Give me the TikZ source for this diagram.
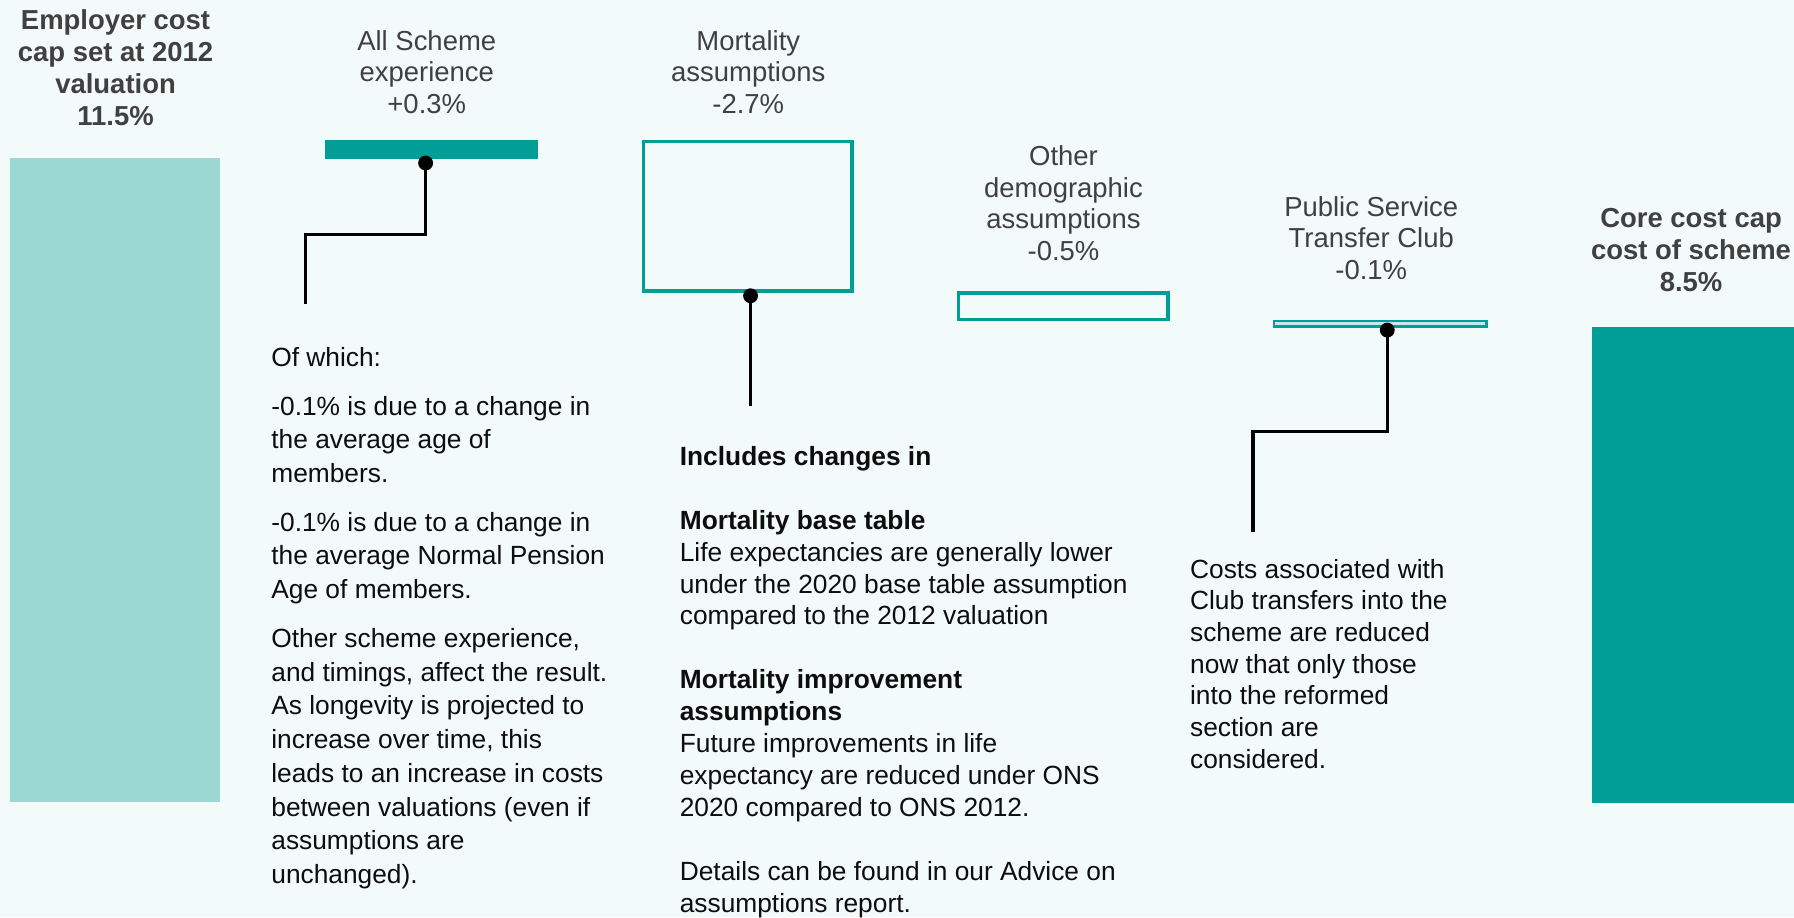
\documentclass[tikz,border=0pt]{standalone}
\usepackage{fontspec}
\setmainfont{Liberation Sans}
\definecolor{bgc}{HTML}{F2FAFA}
\definecolor{teal1}{HTML}{009E96}
\definecolor{teallight}{HTML}{9BD8D4}
\definecolor{tealpale}{HTML}{C4E9E6}
\definecolor{titlegray}{HTML}{404040}
\definecolor{bodyc}{HTML}{0D0D0D}
\begin{document}
\begin{tikzpicture}[x=1pt,y=-1pt,
  barbox/.style={anchor=north west, inner sep=0pt, outer sep=0pt, draw=none},
  outbox/.style={anchor=north west, inner sep=0pt, outer sep=0pt, draw=teal1, line width=3pt},
  ttl/.style={align=center, anchor=north, inner sep=0pt, text=titlegray, font=\fontsize{24}{27.5}\selectfont},
  bttl/.style={ttl, font=\bfseries\fontsize{24}{27.7}\selectfont},
  bodytxt/.style={align=left, anchor=north west, inner sep=0pt, text=bodyc},
  conn/.style={line width=3pt, draw=black},
  dot/.style={circle, fill=black, inner sep=0pt, minimum size=13pt}
]
\useasboundingbox (0,0) rectangle (1568,801.5);
\fill[bgc] (0,0) rectangle (1568,801.5);

% bars
\node[barbox, fill=teallight, minimum width=183pt, minimum height=563pt] (empbar) at (9,138) {};
\node[barbox, fill=teal1, minimum width=186pt, minimum height=17pt] (asbar) at (284,122) {};
\node[outbox, minimum width=182pt, minimum height=131pt] (mortbox) at (562.5,123.5) {};
\node[outbox, minimum width=183.5pt, minimum height=23pt] (othbox) at (837.5,256) {};
\node[outbox, line width=2.5pt, fill=tealpale, minimum width=185.5pt, minimum height=5pt] (pstcbar) at (1113.5,280.5) {};
\node[barbox, fill=teal1, minimum width=180pt, minimum height=416.5pt] (corebar) at (1391,285.5) {};

% titles
\node[bttl] (emptitle) at (101,6.6) {\strut Employer cost\\cap set at 2012\\valuation\\11.5\%};
\node[ttl] (astitle) at (373,24.5) {\strut All Scheme\\experience\\+0.3\%};
\node[ttl] (morttitle) at (654,24.5) {\strut Mortality\\assumptions\\-2.7\%};
\node[ttl] (othtitle) at (929.5,125.3) {\strut Other\\demographic\\assumptions\\-0.5\%};
\node[ttl] (pstctitle) at (1198.5,169.8) {\strut Public Service\\Transfer Club\\-0.1\%};
\node[bttl] (coretitle) at (1478,179.6) {\strut Core cost cap\\cost of scheme\\8.5\%};

% body texts
\node[bodytxt, font=\fontsize{23}{29.5}\selectfont] (txt1) at (237,299.4) {\strut Of which:\\[13pt]
-0.1\% is due to a change in\\
the average age of\\
members.\\[13pt]
-0.1\% is due to a change in\\
the average Normal Pension\\
Age of members.\\[13pt]
Other scheme experience,\\
and timings, affect the result.\\
As longevity is projected to\\
increase over time, this\\
leads to an increase in costs\\
between valuations (even if\\
assumptions are\\
unchanged).};

\node[bodytxt, font=\fontsize{23}{27.9}\selectfont] (txt2) at (594,387) {\strut\textbf{Includes changes in}\\[27.9pt]
\textbf{Mortality base table}\\
Life expectancies are generally lower\\
under the 2020 base table assumption\\
compared to the 2012 valuation\\[27.9pt]
\textbf{Mortality improvement}\\
\textbf{assumptions}\\
Future improvements in life\\
expectancy are reduced under ONS\\
2020 compared to ONS 2012.\\[27.9pt]
Details can be found in our Advice on\\
assumptions report.};

\node[bodytxt, font=\fontsize{23}{27.7}\selectfont] (txt3) at (1040,485.6) {\strut Costs associated with\\
Club transfers into the\\
scheme are reduced\\
now that only those\\
into the reformed\\
section are\\
considered.};

% connector end points
\coordinate (e1) at (267,265.5);
\coordinate (e2) at (656,355);
\coordinate (e3) at (1095,465);

% connectors
\draw[conn] (372,142.5) coordinate (asdotc) -- ++(0,62.5) -| (e1);
\draw[conn] (656,258.5) coordinate (mortdotc) -- (e2);
\draw[conn] (1212.5,288.5) coordinate (pstcdotc) -- ++(0,88.5) -| (e3);

% dots
\node[dot] (asdot) at (asdotc) {};
\node[dot] (mortdot) at (mortdotc) {};
\node[dot] (pstcdot) at (pstcdotc) {};
\end{tikzpicture}
\end{document}
